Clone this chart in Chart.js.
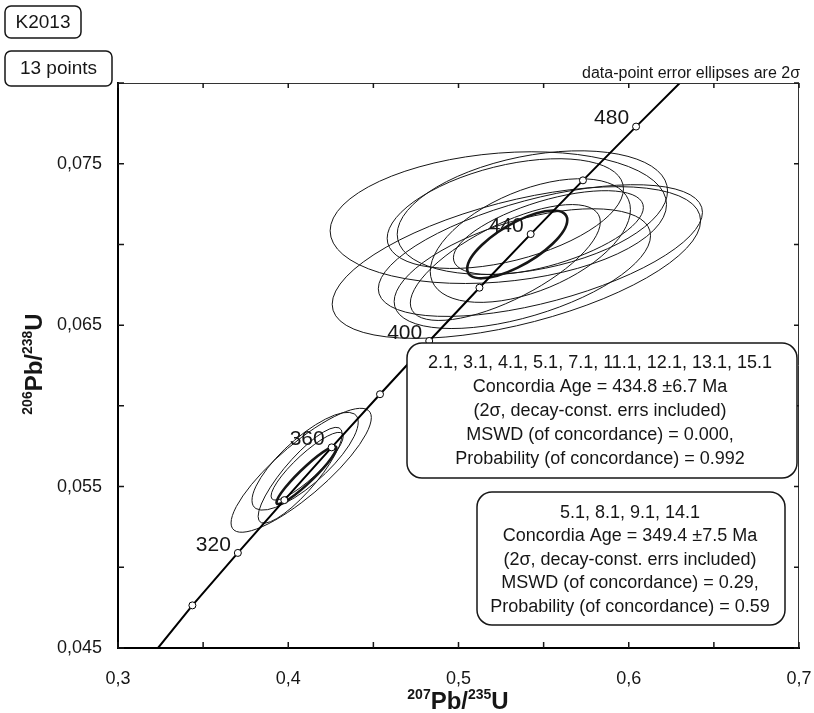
<!DOCTYPE html>
<html>
<head>
<meta charset="utf-8">
<title>K2013 concordia</title>
<script src="https://cdn.jsdelivr.net/npm/chart.js@4.4.1/dist/chart.umd.min.js"></script>
<style>
    html, body { margin: 0; padding: 0; background: #fff; }
    #wrap { width: 814px; height: 713px; }
</style>
</head>
<body>
<div id="wrap"><canvas id="concordiaChart" width="814" height="713"></canvas></div>
<script>
// === Data ===
// concordia age marks (Ma) and their ratios
const concordiaAges = [300, 320, 340, 360, 380, 400, 420, 440, 460, 480];
const concordiaX = [0.3437, 0.3704, 0.3977, 0.4255, 0.4539, 0.4828, 0.5123, 0.5424, 0.5731, 0.6043];
const concordiaY = [0.04764, 0.05089, 0.05416, 0.05743, 0.06072, 0.06402, 0.06732, 0.07064, 0.07397, 0.07730];
const curveEndX = [0.3235, 0.6300];
const curveEndY = [0.0450, 0.0800];
const labelledAges = [320, 360, 400, 440, 480];

// data-point error ellipses (centre, 2 sigma, error correlation)
const upperX = [0.5234, 0.5340, 0.5481, 0.5275, 0.5434, 0.5375, 0.5422, 0.5275, 0.5528];
const upperY = [0.07166, 0.06888, 0.06962, 0.07191, 0.07197, 0.06850, 0.07024, 0.06888, 0.07073];
const upperSx = [0.0988, 0.1082, 0.0952, 0.0694, 0.0794, 0.0753, 0.0588, 0.0558, 0.0558];
const upperSy = [0.00408, 0.00470, 0.00408, 0.00340, 0.00383, 0.00371, 0.00383, 0.00359, 0.00260];
const upperRho = [0.20, 0.55, 0.58, 0.45, 0.35, 0.55, 0.50, 0.70, 0.60];

const lowerX = [0.4076, 0.4099, 0.4111, 0.4070];
const lowerY = [0.05601, 0.05657, 0.05626, 0.05570];
const lowerSx = [0.0412, 0.0312, 0.0212, 0.0247];
const lowerSy = [0.00384, 0.00303, 0.00210, 0.00297];
const lowerRho = [0.85, 0.80, 0.88, 0.86];

// concordia age ellipses (bold)
const ageX = [0.5345, 0.4107];
const ageY = [0.0700, 0.0557];
const ageSx = [0.0294, 0.0176];
const ageSy = [0.00210, 0.00179];
const ageRho = [0.72, 0.94];

// axis ticks
const xTicks = [0.3, 0.4, 0.5, 0.6, 0.7];
const yTicks = [0.045, 0.055, 0.065, 0.075];

// annotation texts
const resultUpper = ['2.1, 3.1, 4.1, 5.1, 7.1, 11.1, 12.1, 13.1, 15.1', 'Concordia Age = 434.8 \u00b16.7 Ma',
    '(2\u03c3, decay-const. errs included)', 'MSWD (of concordance) = 0.000,', 'Probability (of concordance) = 0.992'];
const resultLower = ['5.1, 8.1, 9.1, 14.1', 'Concordia Age = 349.4 \u00b17.5 Ma',
    '(2\u03c3, decay-const. errs included)', 'MSWD (of concordance) = 0.29,', 'Probability (of concordance) = 0.59'];

// === Build the concordia curve points ===
const curvePoints = [{ x: curveEndX[0], y: curveEndY[0], mark: false }];
concordiaX.forEach(function (x, i) {
    curvePoints.push({ x: x, y: concordiaY[i], mark: true, age: concordiaAges[i] });
});
curvePoints.push({ x: curveEndX[1], y: curveEndY[1], mark: false });

const FONT = '"Liberation Sans", Arial, sans-serif';
const INK = '#161616';

function isTick(v, list) {
    return list.some(function (t) { return Math.abs(t - v) < 1e-9; });
}

function drawEllipse(c, xs, ys, cx, cy, sx, sy, rho) {
    const px = xs.getPixelForValue(cx);
    const py = ys.getPixelForValue(cy);
    const ax = xs.getPixelForValue(cx + sx) - px;
    const ay = ys.getPixelForValue(cy + sy) - py;
    const k = Math.sqrt(1 - rho * rho);
    c.save();
    c.beginPath();
    c.transform(ax, ay * rho, 0, ay * k, px, py);
    c.arc(0, 0, 1, 0, Math.PI * 2);
    c.restore();
    c.stroke();
}

function roundBox(c, x, y, w, h, r) {
    c.beginPath();
    c.moveTo(x + r, y);
    c.arcTo(x + w, y, x + w, y + h, r);
    c.arcTo(x + w, y + h, x, y + h, r);
    c.arcTo(x, y + h, x, y, r);
    c.arcTo(x, y, x + w, y, r);
    c.closePath();
    c.fillStyle = '#fff';
    c.fill();
    c.lineWidth = 1.5;
    c.strokeStyle = INK;
    c.stroke();
}

// title with superscript mass numbers, e.g. 207Pb/235U
function isotopeTitle(c, parts, x, y) {
    const big = 'bold 24px ' + FONT;
    const small = 'bold 14px ' + FONT;
    let total = 0;
    parts.forEach(function (p) {
        c.font = p.sup ? small : big;
        total += c.measureText(p.t).width;
    });
    let cur = x - total / 2;
    c.textAlign = 'left';
    c.textBaseline = 'alphabetic';
    parts.forEach(function (p) {
        c.font = p.sup ? small : big;
        c.fillText(p.t, cur, p.sup ? y - 10 : y);
        cur += c.measureText(p.t).width;
    });
}

// === Ellipses under the curve ===
const ellipsePlugin = {
    id: 'ellipses',
    beforeDatasetsDraw(chart) {
        const c = chart.ctx, xs = chart.scales.x, ys = chart.scales.y, a = chart.chartArea;
        c.save();
        c.beginPath();
        c.rect(a.left, a.top, a.right - a.left, a.bottom - a.top);
        c.clip();
        c.strokeStyle = INK;
        c.lineWidth = 1;
        upperX.forEach(function (x, i) {
            drawEllipse(c, xs, ys, x, upperY[i], upperSx[i], upperSy[i], upperRho[i]);
        });
        lowerX.forEach(function (x, i) {
            drawEllipse(c, xs, ys, x, lowerY[i], lowerSx[i], lowerSy[i], lowerRho[i]);
        });
        c.lineWidth = 2.6;
        ageX.forEach(function (x, i) {
            drawEllipse(c, xs, ys, x, ageY[i], ageSx[i], ageSy[i], ageRho[i]);
        });
        c.restore();
    }
};

// === Frame, inward ticks, labels, boxes, titles ===
const decorPlugin = {
    id: 'decor',
    afterDatasetsDraw(chart) {
        const c = chart.ctx, xs = chart.scales.x, ys = chart.scales.y, a = chart.chartArea;
        c.save();
        // top and right frame
        c.strokeStyle = '#333';
        c.lineWidth = 1;
        c.beginPath();
        c.moveTo(a.left, a.top + 0.5);
        c.lineTo(a.right - 0.5, a.top + 0.5);
        c.lineTo(a.right - 0.5, a.bottom);
        c.stroke();

        // inward tick marks on all four sides
        c.strokeStyle = INK;
        c.lineWidth = 1.5;
        xs.ticks.forEach(function (t) {
            const px = xs.getPixelForValue(t.value);
            c.beginPath();
            c.moveTo(px, a.bottom);
            c.lineTo(px, a.bottom - 6);
            c.moveTo(px, a.top);
            c.lineTo(px, a.top + 5);
            c.stroke();
        });
        ys.ticks.forEach(function (t) {
            const py = ys.getPixelForValue(t.value);
            c.beginPath();
            c.moveTo(a.left, py);
            c.lineTo(a.left + 6, py);
            c.moveTo(a.right, py);
            c.lineTo(a.right - 5, py);
            c.stroke();
        });

        // age labels beside the concordia marks
        c.fillStyle = INK;
        c.font = '21px ' + FONT;
        c.textAlign = 'right';
        c.textBaseline = 'middle';
        concordiaAges.forEach(function (age, i) {
            if (labelledAges.indexOf(age) < 0) return;
            const px = xs.getPixelForValue(concordiaX[i]);
            const py = ys.getPixelForValue(concordiaY[i]);
            c.fillText(String(age), px - 7, py - 8);
        });

        // result boxes
        roundBox(c, 407, 343, 390, 135, 15);
        roundBox(c, 477, 492, 308, 133, 15);
        c.fillStyle = INK;
        c.font = '18px ' + FONT;
        c.textAlign = 'center';
        c.textBaseline = 'middle';
        resultUpper.forEach(function (line, i) {
            c.fillText(line, 600, 363 + i * 24);
        });
        resultLower.forEach(function (line, i) {
            c.fillText(line, 630, 513 + i * 23.5);
        });

        // sample boxes
        roundBox(c, 5, 6, 76, 32, 6);
        roundBox(c, 5, 51, 107, 35, 6);
        c.fillStyle = INK;
        c.font = '19px ' + FONT;
        c.fillText('K2013', 43, 23);
        c.fillText('13 points', 58.5, 69);

        c.font = '16px ' + FONT;
        c.textAlign = 'right';
        c.textBaseline = 'alphabetic';
        c.fillText('data-point error ellipses are 2\u03c3', 800, 78);

        // axis titles
        isotopeTitle(c, [{ t: '207', sup: true }, { t: 'Pb/' }, { t: '235', sup: true }, { t: 'U' }], 458, 709);
        c.translate(42, 364);
        c.rotate(-Math.PI / 2);
        isotopeTitle(c, [{ t: '206', sup: true }, { t: 'Pb/' }, { t: '238', sup: true }, { t: 'U' }], 0, 0);
        c.restore();
    }
};

const ctx = document.getElementById('concordiaChart').getContext('2d');
const concordiaChart = new Chart(ctx, {
    type: 'scatter',
    data: {
        datasets: [{
            label: 'Concordia',
            data: curvePoints,
            showLine: true,
            borderColor: '#000',
            borderWidth: 2,
            tension: 0,
            pointRadius: function (c) { return c.raw && c.raw.mark ? 3.5 : 0; },
            pointBackgroundColor: '#fff',
            pointBorderColor: '#000',
            pointBorderWidth: 1
        }]
    },
    options: {
        responsive: false,
        animation: false,
        devicePixelRatio: 1,
        layout: { padding: { top: 83, right: 15, left: 0, bottom: 0 } },
        plugins: {
            legend: { display: false },
            tooltip: { enabled: false }
        },
        scales: {
            x: {
                type: 'linear',
                min: 0.3,
                max: 0.7,
                afterFit: function (scale) { scale.height = 65; },
                // invisible tick length keeps the labels low without widening the side padding
                grid: { display: true, drawOnChartArea: false, drawTicks: true, tickLength: 20, color: 'rgba(0,0,0,0)' },
                border: { display: true, color: '#000', width: 2 },
                ticks: {
                    stepSize: 0.05,
                    autoSkip: false,
                    maxRotation: 0,
                    padding: 0,
                    color: INK,
                    font: { family: FONT, size: 18 },
                    callback: function (v) { return isTick(v, xTicks) ? v.toFixed(1).replace('.', ',') : ''; }
                }
            },
            y: {
                type: 'linear',
                min: 0.045,
                max: 0.08,
                afterFit: function (scale) { scale.width = 118; },
                grid: { display: false, drawTicks: false },
                border: { display: true, color: '#000', width: 2 },
                ticks: {
                    stepSize: 0.005,
                    autoSkip: false,
                    padding: 16,
                    color: INK,
                    font: { family: FONT, size: 18 },
                    callback: function (v) { return isTick(v, yTicks) ? v.toFixed(3).replace('.', ',') : ''; }
                }
            }
        }
    },
    plugins: [ellipsePlugin, decorPlugin]
});
</script>
</body>
</html>
